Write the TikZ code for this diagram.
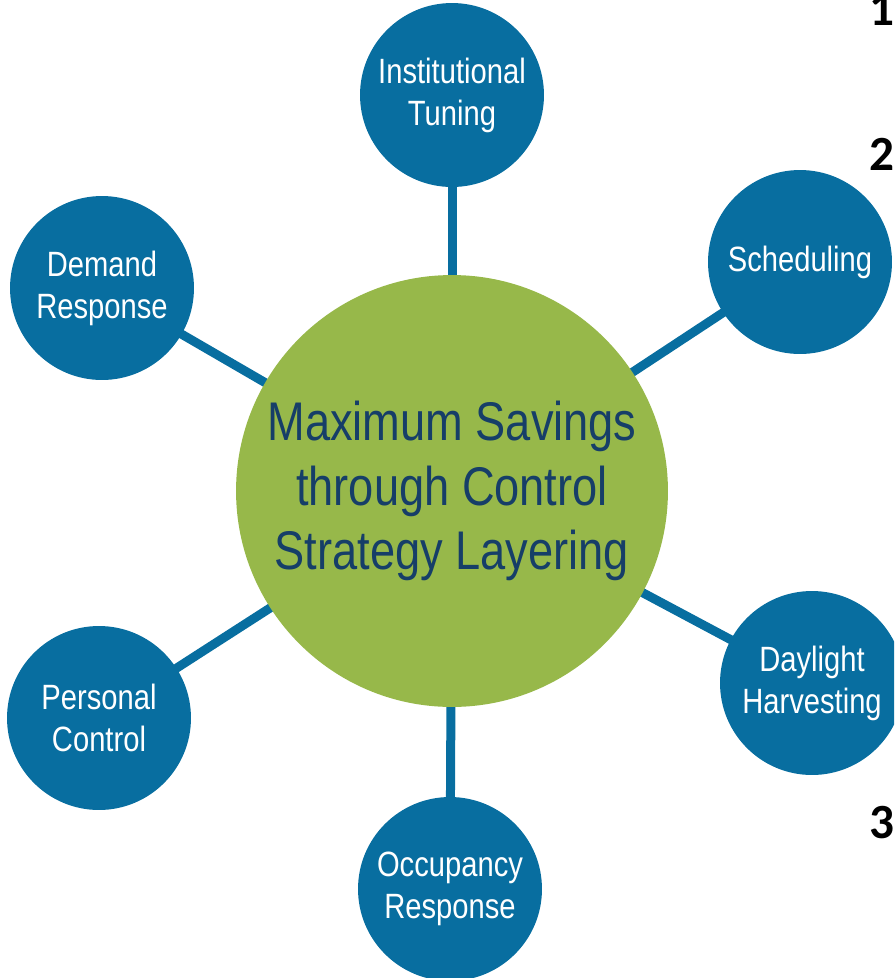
\documentclass[tikz,border=0pt]{standalone}
\usepackage{fontspec}
\setmainfont{Liberation Sans}[FakeStretch=0.83]
\newfontfamily\numfont{Carlito}
\usetikzlibrary{positioning,backgrounds}
\definecolor{ringblue}{RGB}{8,110,160}
\definecolor{hubgreen}{RGB}{151,184,74}
\definecolor{hubtext}{RGB}{22,62,104}
\tikzstyle{hub}=[circle,fill=hubgreen,minimum size=8.64cm,inner sep=0pt,text=hubtext,align=center,font=\fontsize{31}{36.5}\selectfont]
\tikzstyle{leaf}=[circle,fill=ringblue,minimum size=3.68cm,inner sep=0pt,text=white,align=center,font=\fontsize{20}{24}\selectfont]
\tikzstyle{spoke}=[draw=ringblue,line width=0.18cm]
\tikzstyle{num}=[anchor=base east,inner sep=0pt,font=\numfont\bfseries\fontsize{28}{28}\selectfont]

\begin{document}
\begin{tikzpicture}[x=0.02cm,y=-0.02cm]
        \useasboundingbox (0,0) rectangle (894,978);
        \clip (0,0) rectangle (894,978);
        \node (hub) [hub] at (452,491) {Maximum Savings\\through Control\\Strategy Layering};
        \node (tune) [leaf] at (452,95) {Institutional\\Tuning};
        \node (sched) [leaf] at (800,262) {Scheduling};
        \node (daylt) [leaf] at (812,683) {Daylight\\Harvesting};
        \node (occ) [leaf] at (450,889) {Occupancy\\Response};
        \node (pers) [leaf] at (99,718) {Personal\\Control};
        \node (demand) [leaf] at (102,288) {Demand\\Response};

        \begin{scope}[on background layer]
        \foreach \n in {tune,sched,daylt,occ,pers,demand}
            \draw[spoke] (hub.center) -- (\n.center);
        \end{scope}

        % list numbers at the right edge
        \node (one) [num] at (895,25) {1};
        \node (two) [num] at (895,170) {2};
        \node (three) [num] at (895,838) {3};
    \end{tikzpicture}
\end{document}
